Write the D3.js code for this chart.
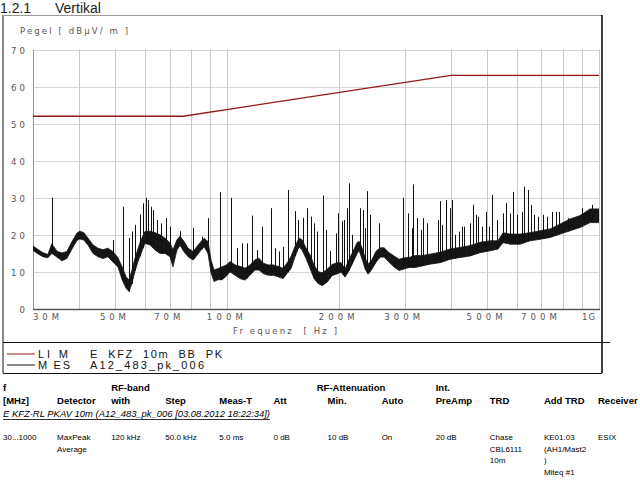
<!DOCTYPE html>
<html>
<head>
<meta charset="utf-8">
<script src="https://cdn.jsdelivr.net/npm/d3@7"></script>
<style>
  html, body { margin: 0; padding: 0; background: #fff; }
  svg { display: block; }
  text { font-family: "Liberation Sans", Arial, sans-serif; }
  .ax { font-family: "DejaVu Sans", Verdana, sans-serif; }
</style>
</head>
<body>
<svg id="chart" width="640" height="480"></svg>
<script>
// ---------- data ----------
const limitFreq  = [30, 76, 400, 1000];          // MHz
const limitLevel = [52, 52, 63, 63];             // dBµV/m

const bandFreq = [30, 30.9, 31.9, 32.9, 33.7, 34.8, 35.9, 37.0, 38.2, 39.4,
  40.1, 41.1, 42.2, 43.5, 44.9, 46.3, 47.7, 49.2, 50.8, 52.1,
  53.4, 54.4, 55.4, 56.4, 57.5, 58.6, 60.0, 61.9, 63.9, 65.9,
  68.0, 70.1, 71.4, 73.2, 74.6, 76.5, 78.4, 80.9, 82.9, 85.0,
  86.6, 88.7, 90.4, 92.1, 94.4, 96.8, 99.2, 101.7, 104.9, 108.2,
  111.6, 115.1, 118.7, 121.7, 124.8, 128.7, 132.7, 136.9, 141.2, 144.8,
  148.4, 152.1, 156.0, 158.9, 162.9, 167.0, 171.1, 175.4, 179.8, 185.5,
  191.3, 197.4, 202.3, 207.4, 212.6, 217.9, 223.4, 226.2, 230.4, 234.8,
  239.2, 245.2, 251.3, 257.6, 264.1, 272.4, 281.0, 289.8, 298.8, 308.2,
  319.9, 334.0, 351.0, 373.5, 397.4, 422.8, 449.8, 478.6, 509.2, 535.0,
  551.9, 576.3, 613.2, 652.4, 694.1, 738.5, 785.7, 836.0, 889.4, 946.3, 1000];
const bandHigh = [17.0, 16.1, 15.2, 14.7, 17.6, 15.6, 15.1, 15.5, 18.2, 20.5,
  21.0, 20.6, 19.1, 17.3, 16.4, 16.0, 16.4, 15.5, 13.8, 11.4,
  8.7, 7.8, 10.5, 13.6, 16.3, 18.7, 20.9, 21.0, 20.6, 20.0,
  19.1, 17.8, 16.0, 18.7, 19.6, 18.2, 16.4, 15.5, 16.9, 18.2,
  19.1, 18.2, 13.2, 10.5, 10.9, 11.4, 11.8, 12.8, 11.9, 11.5,
  11.0, 11.9, 13.3, 13.7, 12.4, 11.9, 11.9, 11.5, 11.0, 12.4,
  14.2, 16.9, 19.1, 18.7, 16.4, 14.6, 11.9, 10.1, 9.8, 10.7,
  12.0, 12.5, 12.5, 10.8, 13.4, 15.6, 17.9, 18.3, 16.5, 13.8,
  12.1, 13.4, 15.6, 16.5, 16.5, 15.2, 14.3, 13.4, 13.8, 13.9,
  14.4, 14.4, 14.8, 15.3, 16.2, 16.6, 17.1, 18.0, 18.4, 18.4,
  20.6, 20.2, 20.2, 20.6, 21.1, 21.6, 22.9, 24.3, 25.2, 27.0, 27.0];
const bandLow = [15.8, 14.9, 14.1, 13.8, 15.0, 14.0, 13.0, 13.6, 16.2, 18.5,
  18.9, 18.6, 17.2, 15.0, 14.1, 13.6, 14.1, 12.7, 11.3, 7.9,
  5.6, 4.7, 7.0, 10.1, 12.8, 15.0, 17.7, 17.3, 15.9, 15.0,
  15.0, 14.1, 11.4, 15.9, 17.2, 15.4, 14.1, 13.2, 14.5, 15.9,
  16.8, 15.0, 9.7, 7.4, 7.9, 7.9, 8.8, 10.0, 9.1, 8.2,
  7.8, 9.1, 10.5, 10.5, 9.6, 9.1, 9.1, 8.7, 8.2, 9.6,
  10.9, 14.1, 16.8, 15.9, 13.6, 10.9, 8.2, 6.9, 6.3, 7.2,
  9.0, 9.5, 9.9, 8.6, 10.4, 12.6, 14.9, 15.8, 13.5, 10.8,
  9.4, 10.8, 12.6, 14.0, 14.0, 12.6, 11.3, 10.4, 10.8, 11.2,
  11.2, 11.6, 12.1, 12.5, 13.4, 13.9, 14.3, 15.2, 15.7, 16.2,
  17.9, 17.5, 17.5, 18.4, 18.8, 19.3, 20.2, 21.1, 22.0, 23.3, 23.3];

const spikeFreq = [33.7, 49.3, 52.5, 54.4, 55.3, 56.5, 58.2, 59.4, 60.3, 61.3,
  62.2, 63.2, 64.6, 66.2, 68.4, 70.1, 74.6, 81.0, 85.3, 88.9,
  95.6, 102.5, 106.0, 109.7, 112.8, 116.8, 120.0, 124.2, 131.1, 134.4,
  138.0, 141.5, 145.7, 152.4, 155.3, 160.2, 164.2, 167.7, 171.1, 174.7,
  180.8, 184.4, 189.0, 195.8, 199.0, 203.2, 206.5, 210.4, 212.6, 217.0,
  227.6, 231.4, 234.8, 238.1, 242.2, 256.0, 297.5, 305.7, 313.4, 316.5,
  323.3, 332.0, 336.7, 343.9, 368.2, 374.2, 377.5, 386.9, 397.4, 403.1,
  409.9, 420.2, 427.2, 432.6, 450.6, 459.1, 466.8, 473.5, 483.6, 495.8,
  506.0, 514.5, 530.7, 550.9, 561.2, 576.3, 588.2, 600.7, 619.7, 629.7,
  643.1, 656.4, 670.0, 686.8, 708.5, 723.5, 749.0, 764.9, 780.8, 827.1,
  898.8, 956.3];
const spikePeak = [30.0, 18.6, 27.6, 19.1, 20.9, 22.7, 25.5, 28.5, 30.0, 29.4,
  27.6, 26.7, 24.0, 23.1, 24.5, 22.2, 21.0, 21.9, 19.5, 24.5,
  31.5, 30.0, 16.4, 17.7, 17.7, 25.2, 15.9, 22.2, 27.2, 16.4,
  15.5, 16.8, 32.1, 26.4, 24.0, 24.6, 27.2, 24.9, 23.1, 20.9,
  30.6, 21.3, 15.6, 20.4, 25.8, 23.7, 24.0, 27.2, 33.9, 20.0,
  27.2, 26.7, 21.8, 31.8, 25.4, 23.1, 30.0, 25.8, 21.8, 33.6,
  24.5, 21.3, 24.5, 23.1, 24.0, 29.1, 22.7, 29.4, 27.2, 29.4,
  20.0, 20.9, 22.2, 22.2, 23.1, 28.1, 25.4, 24.9, 22.2, 26.2,
  22.2, 30.8, 24.0, 25.8, 28.5, 25.8, 31.6, 25.4, 26.2, 33.0,
  32.1, 28.1, 25.4, 24.9, 25.4, 24.9, 26.2, 26.2, 26.2, 24.5,
  27.2, 28.1];

const yTicks = [0, 10, 20, 30, 40, 50, 60, 70];
const xGrid = [40, 50, 60, 70, 80, 90, 100, 200, 300, 400, 500, 600, 700, 800, 900];
const xTickFreq  = [30, 50, 70, 100, 200, 300, 500, 700, 1000];
const xTickLabel = ["30M", "50M", "70M", "100M", "200M", "300M", "500M", "700M", "1G"];

const legendKeys  = ["LI M", "M ES"];
const legendNames = ["E  KFZ  10m  BB  PK", "A12_483_pk_006"];

const tableHead1 = [["f", 0], ["RF-band", 2], ["RF-Attenuation", 5.8], ["Int.", 8]];
const tableHead2 = [["[MHz]", 0], ["Detector", 1], ["with", 2], ["Step", 3], ["Meas-T", 4],
  ["Att", 5], ["Min.", 6], ["Auto", 7], ["PreAmp", 8], ["TRD", 9], ["Add TRD", 10], ["Receiver", 11]];
const tableTitle = "E KFZ-RL PKAV 10m (A12_483_pk_006 [03.08.2012 18:22:34])";
const tableValues = [
  ["30...1000", 0, 0], ["MaxPeak", 1, 0], ["Average", 1, 1], ["120 kHz", 2, 0], ["50.0 kHz", 3, 0],
  ["5.0 ms", 4, 0], ["0 dB", 5, 0], ["10 dB", 6, 0], ["On", 7, 0], ["20 dB", 8, 0],
  ["Chase", 9, 0], ["CBL6111", 9, 1], ["10m", 9, 2],
  ["KE01.03", 10, 0], ["(AH1/Mast2", 10, 1], [")", 10, 2], ["Miteq #1", 10, 3], ["ESIX", 11, 0]];

// ---------- drawing ----------
const svg = d3.select("#chart");
const L = 33, R = 599, T = 49.5, B = 309;
const x = d3.scaleLog().domain([30, 1000]).range([L, R]);
const y = d3.scaleLinear().domain([0, 70]).range([B, T]);
const col = d3.scaleLinear().domain([0, 11]).range([3, 598]);

// title
svg.append("text").attr("x", 0).attr("y", 12.5).attr("font-size", 14).attr("fill", "#222").text("1.2.1");
svg.append("text").attr("x", 55).attr("y", 12.5).attr("font-size", 14).attr("fill", "#222").text("Vertikal");

// frame
svg.append("line").attr("x1", 3).attr("x2", 3).attr("y1", 15).attr("y2", 373).attr("stroke", "#8a8a8a").attr("stroke-width", 2);
svg.append("line").attr("x1", 3).attr("x2", 602).attr("y1", 15.5).attr("y2", 15.5).attr("stroke", "#999");
svg.append("line").attr("x1", 602).attr("x2", 602).attr("y1", 15).attr("y2", 373).attr("stroke", "#000").attr("stroke-width", 1.5);
svg.append("line").attr("x1", 3).attr("x2", 610).attr("y1", 342.5).attr("y2", 342.5).attr("stroke", "#111");
svg.append("line").attr("x1", 3).attr("x2", 602).attr("y1", 373.5).attr("y2", 373.5).attr("stroke", "#111");

// y label
svg.append("text").attr("class", "ax").attr("x", 20).attr("y", 34).attr("font-size", 8.5).attr("fill", "#555")
  .attr("textLength", 108).attr("lengthAdjust", "spacing").text("Pegel [ dBµV/ m ]");

// grid
const g = svg.append("g");
g.selectAll(".hg").data(yTicks).join("line")
  .attr("x1", L).attr("x2", R).attr("y1", d => Math.round(y(d)) + 0.5).attr("y2", d => Math.round(y(d)) + 0.5)
  .attr("stroke", "#d4d4d4");
g.selectAll(".vg").data(xGrid.concat([1000])).join("line")
  .attr("x1", d => Math.round(x(d)) + 0.5).attr("x2", d => Math.round(x(d)) + 0.5).attr("y1", T).attr("y2", B)
  .attr("stroke", "#c8c8c8");
// axes lines
svg.append("line").attr("x1", L + 0.5).attr("x2", L + 0.5).attr("y1", T).attr("y2", B).attr("stroke", "#999");
svg.append("line").attr("x1", L).attr("x2", R + 1).attr("y1", B + 0.5).attr("y2", B + 0.5).attr("stroke", "#555").attr("stroke-width", 1.5);

// y tick labels
svg.selectAll(".yl").data(yTicks).join("text").attr("class", "ax")
  .attr("x", 25).attr("y", d => y(d) + 4).attr("text-anchor", "end")
  .attr("font-size", 8.5).attr("fill", "#555")
  .each(function(d) { if (String(d).length > 1) d3.select(this).attr("textLength", 14).attr("lengthAdjust", "spacing"); })
  .text(d => d);

// x tick labels
svg.selectAll(".xl").data(xTickFreq).join("text").attr("class", "ax")
  .attr("x", (d, i) => i === 0 ? L : (d === 1000 ? x(d) - 4 : x(d) - 2.5))
  .attr("y", 319.5)
  .attr("text-anchor", (d, i) => i === 0 ? "start" : (d === 1000 ? "end" : "middle"))
  .attr("font-size", 8.5).attr("fill", "#555")
  .attr("textLength", (d, i) => xTickLabel[i].length === 2 ? 13 : xTickLabel[i].length === 3 ? 26 : 36)
  .attr("lengthAdjust", "spacing")
  .text((d, i) => xTickLabel[i]);

svg.append("text").attr("class", "ax").attr("x", 233).attr("y", 334).attr("font-size", 8.5).attr("fill", "#555")
  .attr("textLength", 104).attr("lengthAdjust", "spacing").attr("xml:space", "preserve")
  .text("Fr equenz  [ Hz ]");

// clip
svg.append("clipPath").attr("id", "plotclip").append("rect")
  .attr("x", L).attr("y", T).attr("width", R - L).attr("height", B - T);
const plot = svg.append("g").attr("clip-path", "url(#plotclip)");

// measurement band
const band = bandFreq.map((f, i) => ({ f, lo: bandLow[i], hi: bandHigh[i] }));
const area = d3.area().x(d => x(d.f)).y0(d => y(d.lo)).y1(d => y(d.hi));
plot.append("path").datum(band).attr("d", area)
  .attr("fill", "#151515").attr("stroke", "#151515").attr("stroke-width", 0.8).attr("stroke-linejoin", "bevel");

// spikes
const bis = d3.bisector(d => d).left;
function lowAt(f) {
  let i = bis(bandFreq, f);
  if (i <= 0) return bandLow[0];
  if (i >= bandFreq.length) return bandLow[bandFreq.length - 1];
  const f0 = bandFreq[i - 1], f1 = bandFreq[i];
  const t = (Math.log(f) - Math.log(f0)) / (Math.log(f1) - Math.log(f0));
  return bandLow[i - 1] + t * (bandLow[i] - bandLow[i - 1]);
}
const spikes = spikeFreq.map((f, i) => ({ f, p: spikePeak[i], b: lowAt(f) }));
plot.selectAll(".sp").data(spikes).join("line")
  .attr("x1", d => Math.round(x(d.f)) + 0.5).attr("x2", d => Math.round(x(d.f)) + 0.5)
  .attr("y1", d => y(d.b)).attr("y2", d => y(d.p))
  .attr("stroke", "#111").attr("stroke-width", 1);

// limit line
const limit = limitFreq.map((f, i) => ({ f, v: limitLevel[i] }));
plot.append("path").datum(limit)
  .attr("d", d3.line().x(d => x(d.f)).y(d => y(d.v)))
  .attr("fill", "none").attr("stroke", "#941818").attr("stroke-width", 1.3);

// legend
const legendColors = ["#941818", "#111"];
const legY = [354, 365];
const keyLen = [30, 32], nameLen = [132, 114];
legendKeys.forEach((k, i) => {
  svg.append("line").attr("x1", 7).attr("x2", 35).attr("y1", legY[i]).attr("y2", legY[i])
    .attr("stroke", legendColors[i]).attr("stroke-width", 1);
  svg.append("text").attr("x", 38).attr("y", legY[i] + 3.8).attr("font-size", 11).attr("fill", "#111")
    .attr("textLength", keyLen[i]).attr("lengthAdjust", "spacing").attr("xml:space", "preserve").text(k);
  svg.append("text").attr("x", 90).attr("y", legY[i] + 3.8).attr("font-size", 11).attr("fill", "#111")
    .attr("textLength", nameLen[i]).attr("lengthAdjust", "spacing").attr("xml:space", "preserve").text(legendNames[i]);
});

// table
svg.selectAll(".th1").data(tableHead1).join("text")
  .attr("x", d => col(d[1])).attr("y", 390.5).attr("font-size", 9.5).attr("font-weight", "bold").attr("fill", "#000")
  .text(d => d[0]);
svg.selectAll(".th2").data(tableHead2).join("text")
  .attr("x", d => col(d[1])).attr("y", 403.5).attr("font-size", 9.5).attr("font-weight", "bold").attr("fill", "#000")
  .text(d => d[0]);
svg.append("text").attr("x", 3).attr("y", 417).attr("font-size", 9.5).attr("font-style", "italic").attr("fill", "#000")
  .attr("textLength", 267).attr("lengthAdjust", "spacingAndGlyphs").text(tableTitle);
svg.append("line").attr("x1", 3).attr("x2", 270).attr("y1", 419.5).attr("y2", 419.5).attr("stroke", "#000").attr("stroke-width", 0.8);
svg.selectAll(".tv").data(tableValues).join("text")
  .attr("x", d => col(d[1])).attr("y", d => 440 + d[2] * 11.5).attr("font-size", 8).attr("fill", "#000")
  .text(d => d[0]);
</script>
</body>
</html>
